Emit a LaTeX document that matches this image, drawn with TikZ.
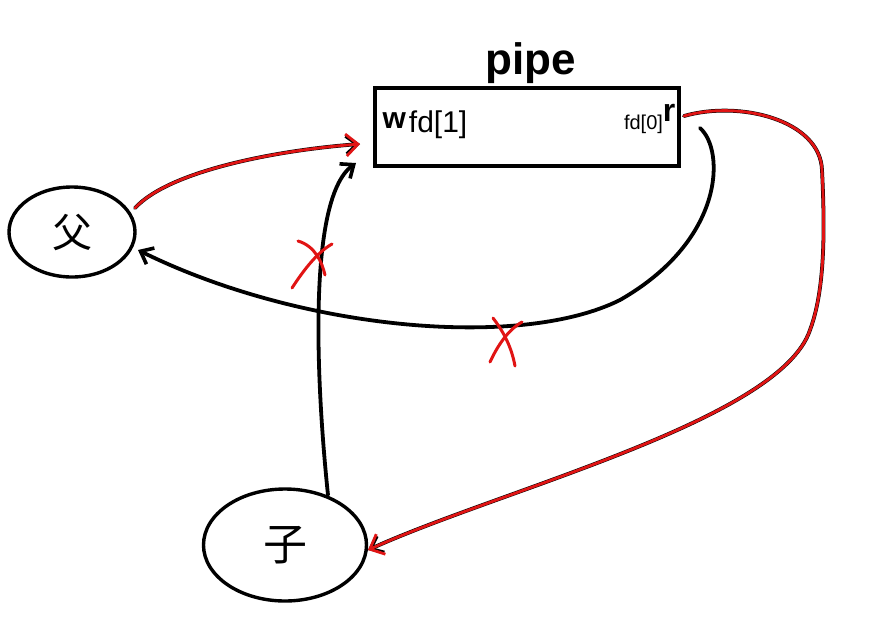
\documentclass[tikz,border=0pt]{standalone}
\usepackage{fontspec}
\setmainfont{Liberation Sans}
\newfontfamily\cjk{Noto Sans CJK SC}
\usetikzlibrary{arrows.meta,shapes.geometric}
\definecolor{pen}{RGB}{225,20,20}
\begin{document}
\begin{tikzpicture}[x=1pt,y=-1pt,
  proc/.style={draw,line width=3.4pt,ellipse,inner sep=0pt},
  blk/.style={draw=black,line width=3.8pt,line cap=round},
  redl/.style={draw=pen,line width=2.8pt,line cap=round},
  tipb/.style={-{Straight Barb[length=11pt,width=18pt,line width=3.6pt]}},
  tipr/.style={-{Straight Barb[length=12pt,width=22pt,line width=2.8pt]}},
  xmark/.style={draw=pen,line width=3pt,line cap=round}]
\useasboundingbox (0,0) rectangle (873,630);
\fill[white] (0,0) rectangle (873,630);
% nodes
\node[proc,minimum width=126pt,minimum height=90pt] (fa) at (72,232) {\cjk\fontsize{40}{40}\selectfont 父};
\node[proc,minimum width=163pt,minimum height=112pt] (zi) at (285,545) {\cjk\fontsize{44}{44}\selectfont 子};
\node[draw,line width=3.2pt,minimum width=304pt,minimum height=78pt,inner sep=0pt] (pipe) at (527,127) {};
\node[font=\bfseries\fontsize{44}{44}\selectfont,anchor=south,inner sep=3pt] (lbl) at ([xshift=4pt]pipe.north) {pipe};
\node[anchor=west,inner sep=0pt] (w) at ([xshift=9pt,yshift=2pt]pipe.west) {\bfseries\fontsize{30}{30}\selectfont w\kern3pt\raisebox{-4pt}{\fontsize{30}{30}\mdseries\selectfont fd[1]}};
\node[anchor=east,inner sep=0pt] (r) at ([xshift=-5pt,yshift=8pt]pipe.east) {\fontsize{20}{20}\selectfont fd[0]\raisebox{8pt}{\bfseries\fontsize{32}{32}\selectfont r}};
% coordinates
\coordinate (fa1) at (135,208);
\coordinate (pin1) at (360,144);
\coordinate (zi1) at (328,495);
\coordinate (pin2) at (356,163);
\coordinate (pout1) at (700,128);
\coordinate (fa2) at (138,250);
\coordinate (pout2) at (684,116);
\coordinate (zi2) at (368,550);
% parent -> pipe write
\draw[blk,tipb] (fa1) .. controls (170,170) and (280,150) .. (pin1);
\draw[redl,tipr] (fa1) .. controls (170,170) and (280,150) .. (pin1);
% child -> pipe write (crossed)
\draw[blk,tipb] (zi1) .. controls (318,400) and (305,200) .. (pin2);
\draw[xmark] (292,288) .. controls (305,268) and (318,252) .. (332,244);
\draw[xmark] (298,241) .. controls (315,246) and (322,262) .. (325,275);
% pipe read -> parent (crossed)
\draw[blk,tipb] (pout1) .. controls (725,150) and (725,240) .. (620,300) .. controls (520,350) and (300,330) .. (fa2);
\draw[xmark] (490,362) .. controls (498,345) and (508,330) .. (522,322);
\draw[xmark] (493,318) .. controls (506,335) and (512,350) .. (515,366);
% pipe read -> child
\draw[blk,tipb] (pout2) .. controls (740,100) and (820,120) .. (822,170) .. controls (825,230) and (825,290) .. (810,330) .. controls (780,420) and (500,490) .. (zi2);
\draw[redl,tipr] (pout2) .. controls (740,100) and (820,120) .. (822,170) .. controls (825,230) and (825,290) .. (810,330) .. controls (780,420) and (500,490) .. (zi2);
\end{tikzpicture}
\end{document}
